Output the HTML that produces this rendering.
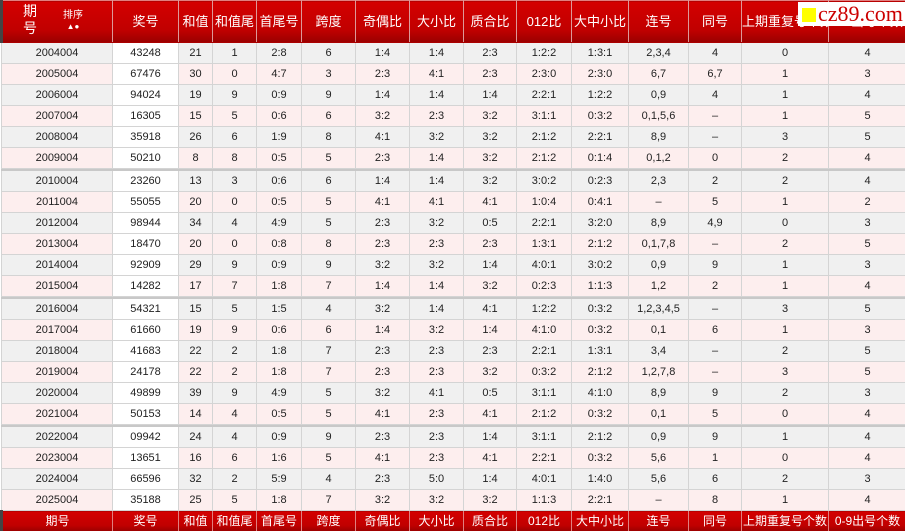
<!DOCTYPE html>
<html><head><meta charset="utf-8"><style>
html,body{margin:0;padding:0;width:905px;height:531px;overflow:hidden;background:#fff}
table{border-collapse:collapse;table-layout:fixed;width:905px;font-family:"Liberation Sans","Noto Sans CJK SC",sans-serif;}
td{padding:0;text-align:center;border:1px solid #d4d4d4;font-size:11px;color:#222;height:20px;line-height:20px;white-space:nowrap;overflow:hidden}
tr.h td{background:linear-gradient(#d40000,#c00000 70%,#9a0000);color:#fff;font-size:13px;height:41px;border-color:#e08080 #d99 #a00 #d99;}
tr.f td{background:linear-gradient(#d40000,#c00000 70%,#9a0000);color:#fff;font-size:12px;height:20px;border-color:#e08080;}
tr.g td{background:#f0f0f0}
tr.p td{background:#fdeeee}
tr.g td.w,tr.p td.w{background:#fff}
tr.s td{height:1px;line-height:1px;background:#c8c8c8;border:1px solid #c8c8c8;font-size:0}
tr.h td:first-child,tr.f td:first-child{border-left:3px solid #444}
.wm{position:absolute;left:798px;top:2px;width:107px;height:24px;background:#fff;font-family:"Liberation Serif",serif;color:#c00;font-size:22px;line-height:24px}
.wm i{display:inline-block;width:14px;height:14px;background:#ff0;margin:0 2px 0 4px;vertical-align:-1px}
</style></head><body>
<table>
<colgroup><col style="width:111px"><col style="width:66px"><col style="width:34px"><col style="width:44px"><col style="width:45px"><col style="width:54px"><col style="width:54px"><col style="width:54px"><col style="width:53px"><col style="width:55px"><col style="width:57px"><col style="width:60px"><col style="width:53px"><col style="width:87px"><col style="width:78px"></colgroup>
<tr class="h"><td><div style="position:relative;height:41px"><span style="position:absolute;left:20px;top:2px;line-height:17px;width:14px;font-size:14px">期<br>号</span><span style="position:absolute;left:60px;top:9px;line-height:11px;font-size:10px">排序<br><span style="font-size:8px">▲●</span></span></div></td><td>奖号</td><td>和值</td><td>和值尾</td><td>首尾号</td><td>跨度</td><td>奇偶比</td><td>大小比</td><td>质合比</td><td>012比</td><td>大中小比</td><td>连号</td><td>同号</td><td>上期重复号个数</td><td>0-9出号个数</td></tr>
<tr class="g"><td>2004004</td><td class="w">43248</td><td>21</td><td>1</td><td>2:8</td><td>6</td><td>1:4</td><td>1:4</td><td>2:3</td><td>1:2:2</td><td>1:3:1</td><td>2,3,4</td><td>4</td><td>0</td><td>4</td></tr>
<tr class="p"><td>2005004</td><td class="w">67476</td><td>30</td><td>0</td><td>4:7</td><td>3</td><td>2:3</td><td>4:1</td><td>2:3</td><td>2:3:0</td><td>2:3:0</td><td>6,7</td><td>6,7</td><td>1</td><td>3</td></tr>
<tr class="g"><td>2006004</td><td class="w">94024</td><td>19</td><td>9</td><td>0:9</td><td>9</td><td>1:4</td><td>1:4</td><td>1:4</td><td>2:2:1</td><td>1:2:2</td><td>0,9</td><td>4</td><td>1</td><td>4</td></tr>
<tr class="p"><td>2007004</td><td class="w">16305</td><td>15</td><td>5</td><td>0:6</td><td>6</td><td>3:2</td><td>2:3</td><td>3:2</td><td>3:1:1</td><td>0:3:2</td><td>0,1,5,6</td><td>–</td><td>1</td><td>5</td></tr>
<tr class="g"><td>2008004</td><td class="w">35918</td><td>26</td><td>6</td><td>1:9</td><td>8</td><td>4:1</td><td>3:2</td><td>3:2</td><td>2:1:2</td><td>2:2:1</td><td>8,9</td><td>–</td><td>3</td><td>5</td></tr>
<tr class="p"><td>2009004</td><td class="w">50210</td><td>8</td><td>8</td><td>0:5</td><td>5</td><td>2:3</td><td>1:4</td><td>3:2</td><td>2:1:2</td><td>0:1:4</td><td>0,1,2</td><td>0</td><td>2</td><td>4</td></tr>
<tr class="s"><td colspan="15"></td></tr>
<tr class="g"><td>2010004</td><td class="w">23260</td><td>13</td><td>3</td><td>0:6</td><td>6</td><td>1:4</td><td>1:4</td><td>3:2</td><td>3:0:2</td><td>0:2:3</td><td>2,3</td><td>2</td><td>2</td><td>4</td></tr>
<tr class="p"><td>2011004</td><td class="w">55055</td><td>20</td><td>0</td><td>0:5</td><td>5</td><td>4:1</td><td>4:1</td><td>4:1</td><td>1:0:4</td><td>0:4:1</td><td>–</td><td>5</td><td>1</td><td>2</td></tr>
<tr class="g"><td>2012004</td><td class="w">98944</td><td>34</td><td>4</td><td>4:9</td><td>5</td><td>2:3</td><td>3:2</td><td>0:5</td><td>2:2:1</td><td>3:2:0</td><td>8,9</td><td>4,9</td><td>0</td><td>3</td></tr>
<tr class="p"><td>2013004</td><td class="w">18470</td><td>20</td><td>0</td><td>0:8</td><td>8</td><td>2:3</td><td>2:3</td><td>2:3</td><td>1:3:1</td><td>2:1:2</td><td>0,1,7,8</td><td>–</td><td>2</td><td>5</td></tr>
<tr class="g"><td>2014004</td><td class="w">92909</td><td>29</td><td>9</td><td>0:9</td><td>9</td><td>3:2</td><td>3:2</td><td>1:4</td><td>4:0:1</td><td>3:0:2</td><td>0,9</td><td>9</td><td>1</td><td>3</td></tr>
<tr class="p"><td>2015004</td><td class="w">14282</td><td>17</td><td>7</td><td>1:8</td><td>7</td><td>1:4</td><td>1:4</td><td>3:2</td><td>0:2:3</td><td>1:1:3</td><td>1,2</td><td>2</td><td>1</td><td>4</td></tr>
<tr class="s"><td colspan="15"></td></tr>
<tr class="g"><td>2016004</td><td class="w">54321</td><td>15</td><td>5</td><td>1:5</td><td>4</td><td>3:2</td><td>1:4</td><td>4:1</td><td>1:2:2</td><td>0:3:2</td><td>1,2,3,4,5</td><td>–</td><td>3</td><td>5</td></tr>
<tr class="p"><td>2017004</td><td class="w">61660</td><td>19</td><td>9</td><td>0:6</td><td>6</td><td>1:4</td><td>3:2</td><td>1:4</td><td>4:1:0</td><td>0:3:2</td><td>0,1</td><td>6</td><td>1</td><td>3</td></tr>
<tr class="g"><td>2018004</td><td class="w">41683</td><td>22</td><td>2</td><td>1:8</td><td>7</td><td>2:3</td><td>2:3</td><td>2:3</td><td>2:2:1</td><td>1:3:1</td><td>3,4</td><td>–</td><td>2</td><td>5</td></tr>
<tr class="p"><td>2019004</td><td class="w">24178</td><td>22</td><td>2</td><td>1:8</td><td>7</td><td>2:3</td><td>2:3</td><td>3:2</td><td>0:3:2</td><td>2:1:2</td><td>1,2,7,8</td><td>–</td><td>3</td><td>5</td></tr>
<tr class="g"><td>2020004</td><td class="w">49899</td><td>39</td><td>9</td><td>4:9</td><td>5</td><td>3:2</td><td>4:1</td><td>0:5</td><td>3:1:1</td><td>4:1:0</td><td>8,9</td><td>9</td><td>2</td><td>3</td></tr>
<tr class="p"><td>2021004</td><td class="w">50153</td><td>14</td><td>4</td><td>0:5</td><td>5</td><td>4:1</td><td>2:3</td><td>4:1</td><td>2:1:2</td><td>0:3:2</td><td>0,1</td><td>5</td><td>0</td><td>4</td></tr>
<tr class="s"><td colspan="15"></td></tr>
<tr class="g"><td>2022004</td><td class="w">09942</td><td>24</td><td>4</td><td>0:9</td><td>9</td><td>2:3</td><td>2:3</td><td>1:4</td><td>3:1:1</td><td>2:1:2</td><td>0,9</td><td>9</td><td>1</td><td>4</td></tr>
<tr class="p"><td>2023004</td><td class="w">13651</td><td>16</td><td>6</td><td>1:6</td><td>5</td><td>4:1</td><td>2:3</td><td>4:1</td><td>2:2:1</td><td>0:3:2</td><td>5,6</td><td>1</td><td>0</td><td>4</td></tr>
<tr class="g"><td>2024004</td><td class="w">66596</td><td>32</td><td>2</td><td>5:9</td><td>4</td><td>2:3</td><td>5:0</td><td>1:4</td><td>4:0:1</td><td>1:4:0</td><td>5,6</td><td>6</td><td>2</td><td>3</td></tr>
<tr class="p"><td>2025004</td><td class="w">35188</td><td>25</td><td>5</td><td>1:8</td><td>7</td><td>3:2</td><td>3:2</td><td>3:2</td><td>1:1:3</td><td>2:2:1</td><td>–</td><td>8</td><td>1</td><td>4</td></tr>
<tr class="f"><td>期号</td><td>奖号</td><td>和值</td><td>和值尾</td><td>首尾号</td><td>跨度</td><td>奇偶比</td><td>大小比</td><td>质合比</td><td>012比</td><td>大中小比</td><td>连号</td><td>同号</td><td>上期重复号个数</td><td>0-9出号个数</td></tr>
</table>
<div class="wm"><i></i>cz89.com</div>
</body></html>
